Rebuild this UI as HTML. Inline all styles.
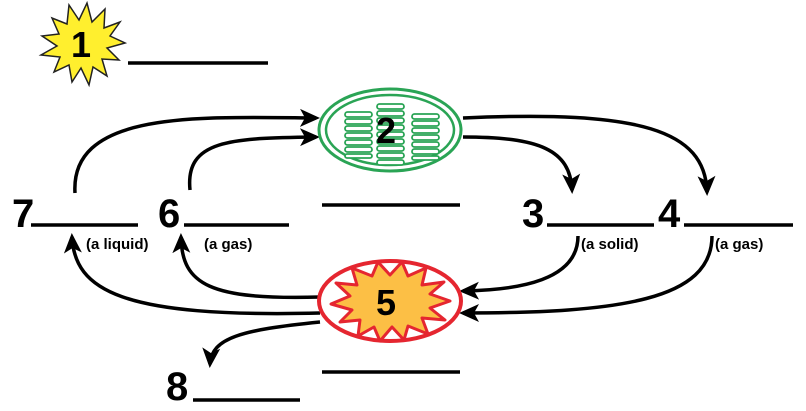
<!DOCTYPE html>
<html><head><style>body{margin:0;background:#fff}svg{display:block}text{font-family:"Liberation Sans",sans-serif;font-weight:bold}</style></head><body>
<svg width="806" height="411" viewBox="0 0 806 411" xmlns="http://www.w3.org/2000/svg">
<defs>
<marker id="b" markerWidth="20" markerHeight="20" refX="16" refY="10" orient="auto" markerUnits="userSpaceOnUse" viewBox="0 0 20 20"><path d="M0,1 L20,10 L0,19 L5,10Z" fill="#000"/></marker></defs>
<polygon fill="#ffef2e" stroke="#222" stroke-width="1.5" points="
125,43 107,48 119,60 102,59 107,76 93,67 89,85 81,68 72,82 69,65 54,72 60,57 41,55 57,46 42,36 59,34 52,18 67,24 69,5 79,20 87,3 92,22 105,9 104,28 120,22 110,36"/>
<text x="71" y="57" font-size="36">1</text>
<g stroke="#000" stroke-width="3.5">
<line x1="128" y1="63" x2="268" y2="63"/>
<line x1="31" y1="225" x2="138" y2="225"/>
<line x1="184" y1="225" x2="289" y2="225"/>
<line x1="322" y1="205" x2="460" y2="205"/>
<line x1="547" y1="225" x2="654" y2="225"/>
<line x1="684" y1="225" x2="793" y2="225"/>
<line x1="322" y1="372" x2="460" y2="372"/>
<line x1="193" y1="400" x2="300" y2="400"/>
</g>
<g font-size="40" fill="#000">
<text x="12" y="227">7</text><text x="158" y="227">6</text><text x="522" y="227">3</text><text x="658" y="227">4</text><text x="166" y="400">8</text></g>
<g font-size="15"><text x="86" y="249">(a liquid)</text><text x="204" y="249">(a gas)</text><text x="581" y="249">(a solid)</text><text x="715" y="249">(a gas)</text></g>
<g fill="none" stroke="#000" stroke-width="3.5">
<path d="M75,193 C70,110 200,117 316,118" marker-end="url(#b)"/>
<path d="M190,190 C185,140 230,138 316,137" marker-end="url(#b)"/>
<path d="M463,118 C640,110 705,130 707,192" marker-end="url(#b)"/>
<path d="M463,137 C540,137 570,150 572,190" marker-end="url(#b)"/>
<path d="M578,236 C578,280 520,290 463,291" marker-end="url(#b)"/>
<path d="M712,236 C712,300 620,313 463,313" marker-end="url(#b)"/>
<path d="M320,297 C210,300 182,285 181,237" marker-end="url(#b)"/>
<path d="M320,313 C120,318 75,290 72,237" marker-end="url(#b)"/>
<path d="M320,322 C240,330 212,338 210,364" marker-end="url(#b)"/>
</g>
<ellipse cx="390" cy="130" rx="71" ry="41" fill="#fff" stroke="#2aa455" stroke-width="3"/>
<ellipse cx="390" cy="130" rx="64" ry="35" fill="none" stroke="#2aa455" stroke-width="2.5"/>
<g fill="#fff" stroke="#2aa455" stroke-width="1.8">
<rect x="345" y="112" width="27" height="5" rx="2.5"/><rect x="345" y="119" width="27" height="5" rx="2.5"/><rect x="345" y="126" width="27" height="5" rx="2.5"/><rect x="345" y="133" width="27" height="5" rx="2.5"/><rect x="345" y="140" width="27" height="5" rx="2.5"/><rect x="345" y="147" width="27" height="5" rx="2.5"/><rect x="345" y="154" width="27" height="4" rx="2"/>
<rect x="377" y="104" width="27" height="5" rx="2.5"/><rect x="377" y="111" width="27" height="5" rx="2.5"/><rect x="377" y="118" width="27" height="5" rx="2.5"/><rect x="377" y="125" width="27" height="5" rx="2.5"/><rect x="377" y="132" width="27" height="5" rx="2.5"/><rect x="377" y="139" width="27" height="5" rx="2.5"/><rect x="377" y="146" width="27" height="5" rx="2.5"/><rect x="377" y="153" width="27" height="5" rx="2.5"/><rect x="377" y="160" width="27" height="5" rx="2.5"/>
<rect x="412" y="114" width="27" height="5" rx="2.5"/><rect x="412" y="121" width="27" height="5" rx="2.5"/><rect x="412" y="128" width="27" height="5" rx="2.5"/><rect x="412" y="135" width="27" height="5" rx="2.5"/><rect x="412" y="142" width="27" height="5" rx="2.5"/><rect x="412" y="149" width="27" height="5" rx="2.5"/><rect x="412" y="156" width="27" height="4" rx="2"/>
</g>
<text x="376" y="143" font-size="36">2</text>
<ellipse cx="390" cy="301" rx="71" ry="40" fill="#fff" stroke="#e52630" stroke-width="4"/>
<polygon fill="#fcbf45" stroke="#e52630" stroke-width="3" stroke-linejoin="round" points="
450,301 430,308 445,320 422,318 428,334 408,326 404,340 392,327 380,341 374,327 358,336 360,320 340,322 352,310 331,304 350,296 336,283 357,285 352,268 372,276 378,262 390,275 402,262 408,276 426,268 422,285 444,282 430,294"/>
<text x="376" y="315" font-size="36">5</text>
</svg>
</body></html>
